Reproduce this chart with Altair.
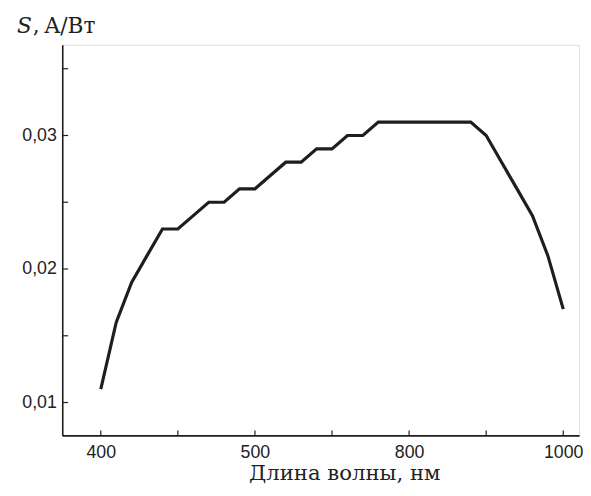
import altair as alt
import pandas as pd

# Data
WAVELENGTH = [400, 420, 440, 460, 480, 500, 520, 540, 560, 580, 600,
              620, 640, 660, 680, 700, 720, 740, 760, 780, 800, 820,
              840, 860, 880, 900, 920, 940, 960, 980, 1000]
SENSITIVITY = [0.011, 0.016, 0.019, 0.021, 0.023, 0.023, 0.024, 0.025, 0.025, 0.026, 0.026,
               0.027, 0.028, 0.028, 0.029, 0.029, 0.030, 0.030, 0.031, 0.031, 0.031, 0.031,
               0.031, 0.031, 0.031, 0.030, 0.028, 0.026, 0.024, 0.021, 0.017]

X_TICKS = [400, 500, 600, 700, 800, 900, 1000]
X_LABEL_POS = [400, 600, 800, 1000]
X_LABELS = ["400", "500", "800", "1000"]
Y_TICKS = [0.01, 0.015, 0.02, 0.025, 0.03, 0.035]
Y_LABEL_POS = [0.01, 0.02, 0.03]
Y_LABELS = ["0,01", "0,02", "0,03"]

X_DOMAIN = [350, 1020.5]
Y_DOMAIN = [0.00754, 0.03679]

W, H = 524, 396
INK = "#1e1e1e"

df = pd.DataFrame({"nm": WAVELENGTH, "s": SENSITIVITY})
xt = pd.DataFrame({"v": X_TICKS})
yt = pd.DataFrame({"v": Y_TICKS})

x_expr = " : ".join(
    [f"datum.value == {p} ? '{l}'" for p, l in zip(X_LABEL_POS, X_LABELS)]) + " : ''"
y_expr = " : ".join(
    [f"abs(datum.value - {p}) < 0.0001 ? '{l}'" for p, l in zip(Y_LABEL_POS, Y_LABELS)]) + " : ''"

xscale = alt.Scale(domain=X_DOMAIN, nice=False, zero=False)
yscale = alt.Scale(domain=Y_DOMAIN, nice=False, zero=False)

xaxis = alt.Axis(values=X_LABEL_POS, labelExpr=x_expr, ticks=False, grid=False,
                 domainColor=INK, domainWidth=1.6, labelFont="Liberation Sans",
                 labelFontSize=18, labelColor="#222", labelPadding=8,
                 title="Длина волны, нм", titleFont="DejaVu Serif", titleFontSize=21.5,
                 titleFontWeight="normal", titleColor="#222",
                 titleX=286, titleY=45, titleBaseline="alphabetic", titleAlign="center")
yaxis = alt.Axis(values=Y_LABEL_POS, labelExpr=y_expr, ticks=False, grid=False,
                 domainColor=INK, domainWidth=1.6, labelFont="Liberation Sans",
                 labelFontSize=18, labelColor="#222", labelPadding=6, title=None)

line = alt.Chart(df).mark_line(color=INK, strokeWidth=3.2).encode(
    x=alt.X("nm:Q", scale=xscale, axis=xaxis),
    y=alt.Y("s:Q", scale=yscale, axis=yaxis),
)

xticks = alt.Chart(xt).mark_rule(color=INK, strokeWidth=1.2).encode(
    x=alt.X("v:Q", scale=xscale),
    y=alt.value(H), y2=alt.value(H - 5),
)
yticks = alt.Chart(yt).mark_rule(color=INK, strokeWidth=1.2).encode(
    y=alt.Y("v:Q", scale=yscale),
    x=alt.value(0), x2=alt.value(6),
)

TITLE_PARTS = [("S", "italic", -46), (",", "normal", -30), ("A/Вт", "normal", -18)]
title_layers = [
    alt.Chart(pd.DataFrame({"t": [txt]})).mark_text(
        font="DejaVu Serif", fontSize=22, fontStyle=style, align="left",
        baseline="alphabetic", color="#222").encode(
        text="t:N", x=alt.value(xpos), y=alt.value(-12))
    for txt, style, xpos in TITLE_PARTS
]

chart = alt.layer(line, xticks, yticks, *title_layers).properties(
    width=W, height=H,
    autosize=alt.AutoSizeParams(type="none"),
    padding={"left": 55, "top": 34, "right": 4, "bottom": 49},
).configure_view(stroke=None).configure(background="white")

chart.save("out.html", embed_options={"renderer": "svg", "actions": False})
